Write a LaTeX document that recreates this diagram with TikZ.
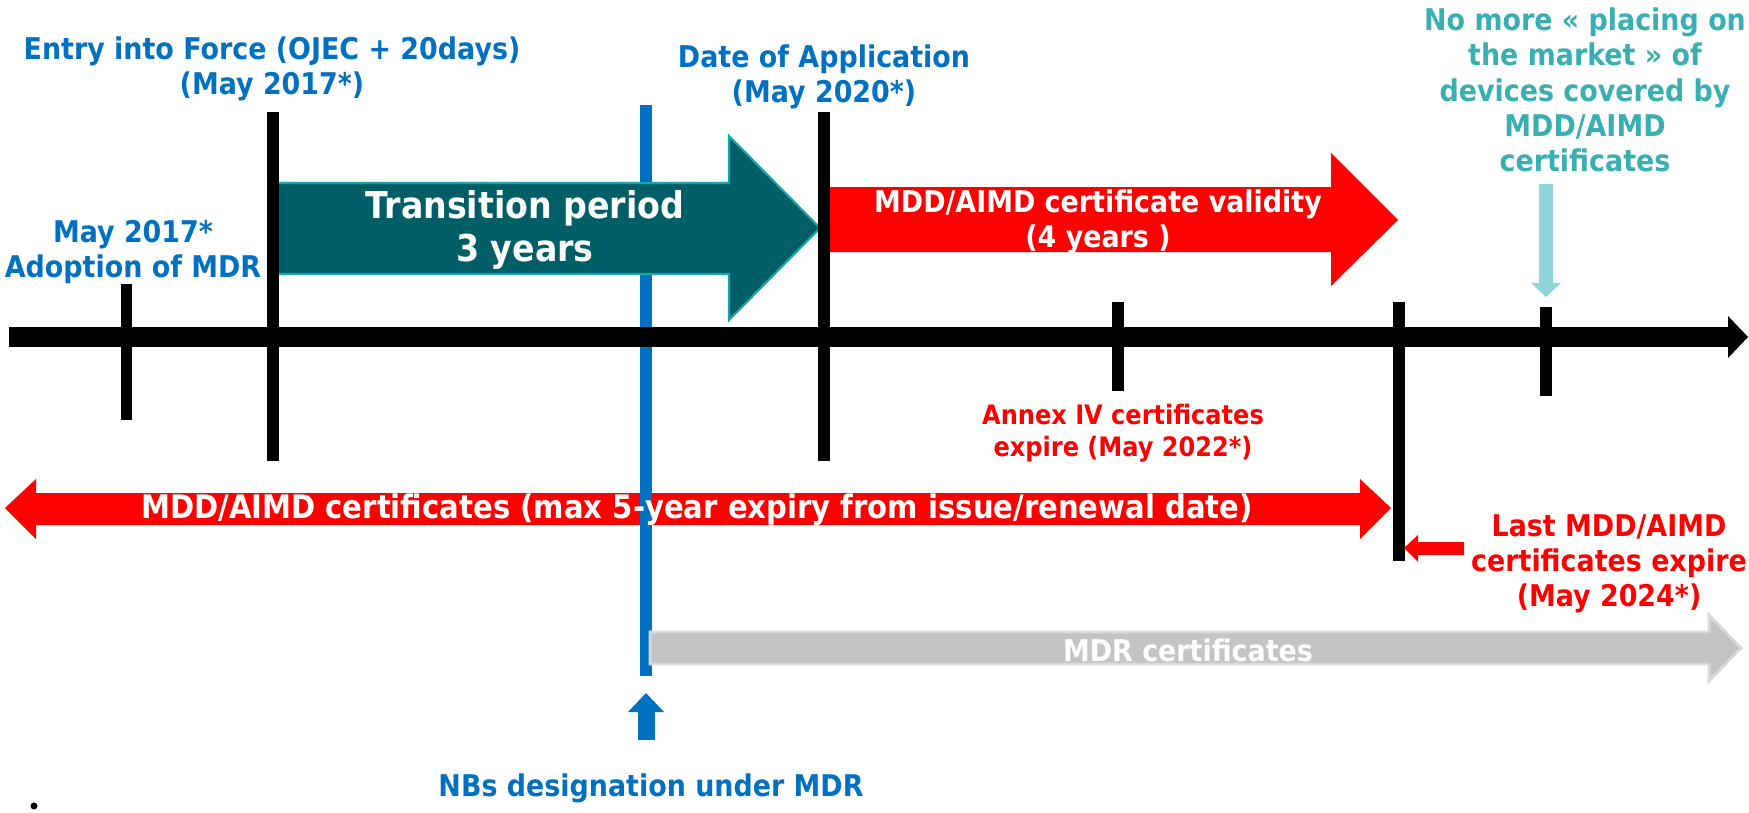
\documentclass[tikz,border=0pt]{standalone}
\usepackage{fontspec}
\setmainfont{DejaVu Sans}[FakeStretch=0.9]
\definecolor{mdrblue}{HTML}{0070C0}
\definecolor{darkteal}{HTML}{005F66}
\definecolor{tealedge}{HTML}{1AA3A8}
\definecolor{tealtext}{HTML}{3AAFB2}
\definecolor{lightteal}{HTML}{8ED6DA}
\definecolor{mdrgray}{HTML}{C4C4C4}
\definecolor{grayedge}{HTML}{D9D9D9}
\begin{document}
\begin{tikzpicture}[x=0.01cm, y=-0.01cm,
  lbl/.style={font=\fontsize{8.5}{10}\selectfont\bfseries, align=center, inner sep=0pt},
  big/.style={font=\fontsize{10.5}{12}\selectfont\bfseries, align=center, inner sep=0pt, text=white}]
  \useasboundingbox (0,0) rectangle (1749,812);
  \begin{scope}
    \fill [color=red] (5,508) -- (36,479) -- (36,493) -- (1360,493) -- (1360,479) -- (1391,508)
      -- (1360,539) -- (1360,525) -- (36,525) -- (36,539) -- cycle;
    \fill [color=mdrblue] (640,105) rectangle (652,676);
    \filldraw [fill=darkteal, draw=tealedge, line width=0.6pt] (277,183) -- (729,183) -- (729,136)
      -- (820,228) -- (729,320) -- (729,274) -- (277,274) -- cycle;
    \fill [color=red] (830,187) -- (1331,187) -- (1331,153) -- (1398,220) -- (1331,286)
      -- (1331,252) -- (830,252) -- cycle;
    \filldraw [fill=mdrgray, draw=grayedge, line width=0.8pt] (650,632) -- (1709,632) -- (1709,615)
      -- (1741,648) -- (1709,681) -- (1709,664) -- (650,664) -- cycle;

    \fill [color=black] (9,327) rectangle (1728,347);
    \fill [color=black] (1728,316) -- (1748,337) -- (1728,358) -- cycle;
    \fill [color=black] (121,284) rectangle (132,420);
    \fill [color=black] (267,112) rectangle (279,461);
    \fill [color=black] (818,112) rectangle (830,461);
    \fill [color=black] (1112,302) rectangle (1124,391);
    \fill [color=black] (1393,302) rectangle (1405,561);
    \fill [color=black] (1540,307) rectangle (1552,396);

    \fill [color=red] (1464,542) -- (1418,542) -- (1418,535) -- (1404,548) -- (1418,562)
      -- (1418,555) -- (1464,555) -- cycle;
    \fill [color=lightteal] (1539,184) rectangle (1553,283);
    \fill [color=lightteal] (1531,283) -- (1561,283) -- (1546,297) -- cycle;
    \fill [color=mdrblue] (638,712) rectangle (655,740);
    \fill [color=mdrblue] (628,712) -- (664,712) -- (646,693) -- cycle;
    \fill [color=black] (34,806) circle (1pt);

    \node [lbl, text=mdrblue] (entry) at (272,69) {Entry into Force (OJEC + 20days)\\(May 2017*)};
    \node [lbl, text=mdrblue] (appl) at (824,77) {Date of Application\\(May 2020*)};
    \node [lbl, text=mdrblue] (adopt) at (133,252) {May 2017*\\Adoption of MDR};
    \node [big] (trans) at (525,230) {Transition period\\3 years};
    \node [lbl, text=white] (valid) at (1098,222) {MDD/AIMD certificate validity\\(4 years )};
    \node [lbl, text=tealtext] (nomore) at (1585,90) {No more « placing on\\the market » of\\devices covered by\\MDD/AIMD\\certificates};
    \node [lbl, text=red, font=\fontsize{7.6}{9.1}\selectfont\bfseries] (annex) at (1123,433) {Annex IV certificates\\expire (May 2022*)};
    \node [lbl, text=white, font=\fontsize{9.2}{10}\selectfont\bfseries] (oldcert) at (697,510) {MDD/AIMD certificates (max 5-year expiry from issue/renewal date)};
    \node [lbl, text=red] (last) at (1609,564) {Last MDD/AIMD\\certificates expire\\(May 2024*)};
    \node [lbl, text=white] (mdrcert) at (1188,650) {MDR certificates};
    \node [lbl, text=mdrblue] (nbs) at (651,788) {NBs designation under MDR};
  \end{scope}
\end{tikzpicture}
\end{document}
